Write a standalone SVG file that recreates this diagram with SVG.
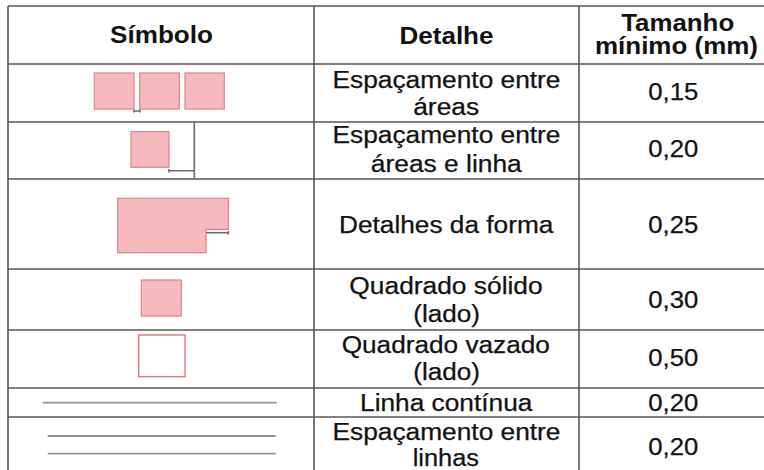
<svg xmlns="http://www.w3.org/2000/svg" width="764" height="470" viewBox="0 0 764 470">
<style>
.grid{stroke:#5a5656;stroke-width:1.6;fill:none}
.h{font-family:"Liberation Sans",Arial,sans-serif;font-size:23px;font-weight:bold;fill:#111;text-anchor:middle}
.t{font-family:"Liberation Sans",Arial,sans-serif;font-size:23.5px;fill:#111;text-anchor:middle;stroke:#111;stroke-width:0.25}
.pink{fill:#f6b9bd;stroke:#e08288;stroke-width:1.2}
.hollow{fill:#fff;stroke:#e07a80;stroke-width:1.4}
.dim{stroke:#6e6a6a;stroke-width:1.6;fill:none}
.ln{stroke:#9a908e;stroke-width:1.8}
</style>
<rect width="764" height="470" fill="#fff"/>
<g id="grid" class="grid">
<line x1="8" y1="6" x2="764" y2="6"/>
<line x1="8" y1="6" x2="8" y2="470"/>
<line x1="314" y1="6" x2="314" y2="470"/>
<line x1="579" y1="6" x2="579" y2="470"/>
<line x1="8" y1="64" x2="764" y2="64"/>
<line x1="8" y1="122" x2="764" y2="122"/>
<line x1="8" y1="179" x2="764" y2="179"/>
<line x1="8" y1="269" x2="764" y2="269"/>
<line x1="8" y1="330" x2="764" y2="330"/>
<line x1="8" y1="388" x2="764" y2="388"/>
<line x1="8" y1="417" x2="764" y2="417"/>
</g>
<g id="header">
<text class="h" x="161.5" y="43" textLength="103" lengthAdjust="spacingAndGlyphs">Símbolo</text>
<text class="h" x="446.5" y="44" textLength="94" lengthAdjust="spacingAndGlyphs">Detalhe</text>
<text class="h" x="677.7" y="30.5" textLength="113" lengthAdjust="spacingAndGlyphs">Tamanho</text>
<text class="h" x="676.5" y="54" textLength="163" lengthAdjust="spacingAndGlyphs">mínimo (mm)</text>
</g>
<g id="row1">
<rect class="pink" x="94.3" y="73" width="39.7" height="36"/>
<rect class="pink" x="139.7" y="73" width="39.6" height="36"/>
<rect class="pink" x="185" y="73" width="39.3" height="36"/>
<path class="dim" d="M134 111H140M134 109.5V112.5M140 109.5V112.5"/>
<text class="t" x="446.5" y="87.5" textLength="228" lengthAdjust="spacingAndGlyphs">Espaçamento entre</text>
<text class="t" x="446.2" y="115" textLength="66" lengthAdjust="spacingAndGlyphs">áreas</text>
<text class="t" x="673.3" y="100" textLength="50" lengthAdjust="spacingAndGlyphs">0,15</text>
</g>
<g id="row2">
<rect class="pink" x="131" y="131.7" width="38" height="35.6"/>
<line class="dim" x1="194.3" y1="122" x2="194.3" y2="179"/>
<path class="dim" d="M169 170.7H194.3M169 169V172.5"/>
<text class="t" x="446.5" y="143.3" textLength="228" lengthAdjust="spacingAndGlyphs">Espaçamento entre</text>
<text class="t" x="446.3" y="172.3" textLength="151" lengthAdjust="spacingAndGlyphs">áreas e linha</text>
<text class="t" x="673.3" y="157.3" textLength="50" lengthAdjust="spacingAndGlyphs">0,20</text>
</g>
<g id="row3">
<path class="pink" d="M117.7 198.3H228.3V229.3H206V252.7H117.7Z"/>
<path class="dim" d="M206 232.7H228.3M228.3 231V234.5"/>
<text class="t" x="446.2" y="232.7" textLength="214.3" lengthAdjust="spacingAndGlyphs">Detalhes da forma</text>
<text class="t" x="673.3" y="232.7" textLength="50" lengthAdjust="spacingAndGlyphs">0,25</text>
</g>
<g id="row4">
<rect class="pink" x="141.3" y="280" width="40" height="36"/>
<text class="t" x="446" y="294.3" textLength="193.3" lengthAdjust="spacingAndGlyphs">Quadrado sólido</text>
<text class="t" x="446.7" y="321.5" textLength="66.7" lengthAdjust="spacingAndGlyphs">(lado)</text>
<text class="t" x="673.3" y="308.3" textLength="50" lengthAdjust="spacingAndGlyphs">0,30</text>
</g>
<g id="row5">
<rect class="hollow" x="138.7" y="335" width="46.3" height="41.7"/>
<text class="t" x="445.8" y="352.7" textLength="208.3" lengthAdjust="spacingAndGlyphs">Quadrado vazado</text>
<text class="t" x="446.7" y="380" textLength="66.7" lengthAdjust="spacingAndGlyphs">(lado)</text>
<text class="t" x="673.3" y="366" textLength="50" lengthAdjust="spacingAndGlyphs">0,50</text>
</g>
<g id="row6">
<line class="ln" x1="42.7" y1="402.7" x2="276.7" y2="402.7"/>
<text class="t" x="446.2" y="411" textLength="172.3" lengthAdjust="spacingAndGlyphs">Linha contínua</text>
<text class="t" x="673.3" y="411" textLength="50" lengthAdjust="spacingAndGlyphs">0,20</text>
</g>
<g id="row7">
<line class="ln" x1="47.7" y1="436" x2="275.7" y2="436"/>
<line class="ln" x1="47.7" y1="453.7" x2="275.7" y2="453.7"/>
<text class="t" x="446.5" y="440" textLength="228" lengthAdjust="spacingAndGlyphs">Espaçamento entre</text>
<text class="t" x="445.8" y="466" textLength="66.3" lengthAdjust="spacingAndGlyphs">linhas</text>
<text class="t" x="673.3" y="455" textLength="50" lengthAdjust="spacingAndGlyphs">0,20</text>
</g>
</svg>
